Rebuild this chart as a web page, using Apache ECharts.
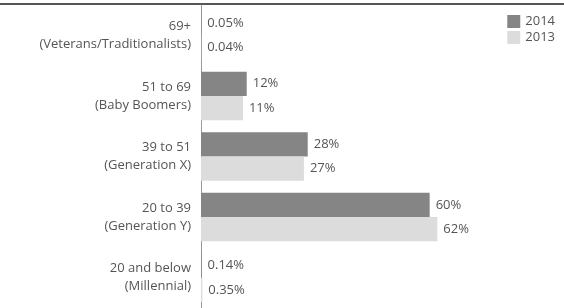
<!DOCTYPE html>
<meta charset="utf-8">
<style>
html, body { margin: 0; padding: 0; background: #fff; }
#main { width: 564px; height: 308px; }
</style>
<div id="main"></div>
<script src="https://cdn.jsdelivr.net/npm/echarts@6/dist/echarts.min.js"></script>
<script>
// age groups, top to bottom
var groups = [
    '69+\n(Veterans/Traditionalists)',
    '51 to 69\n(Baby Boomers)',
    '39 to 51\n(Generation X)',
    '20 to 39\n(Generation Y)',
    '20 and below\n(Millennial)'
];
var values2014 = [0.05, 12, 28, 60, 0.14];
var values2013 = [0.04, 11, 27, 62, 0.35];

var font = 'Open Sans';
var textColor = '#555';

var chart = echarts.init(document.getElementById('main'));

function barLabel() {
    return {
        show: true,
        position: 'right',
        distance: 6,
        color: textColor,
        fontFamily: font,
        fontSize: 13,
        formatter: function (p) { return p.value + '%'; }
    };
}

chart.setOption({
    animation: false,
    graphic: [{
        type: 'rect',
        shape: { x: 0, y: 3, width: 564, height: 2 },
        style: { fill: '#555' }
    }],
    legend: {
        orient: 'vertical',
        right: 4,
        top: 10,
        icon: 'rect',
        itemWidth: 13,
        itemHeight: 13,
        itemGap: 3,
        textStyle: { color: textColor, fontFamily: font, fontSize: 13 },
        data: ['2014', '2013']
    },
    grid: { left: 201, right: 20, top: 5, height: 310, containLabel: false },
    xAxis: {
        type: 'value',
        min: 0,
        max: 90,
        show: false
    },
    yAxis: {
        type: 'category',
        inverse: true,
        data: groups,
        axisLine: { show: true, lineStyle: { color: '#999', width: 1 } },
        axisTick: { show: false },
        axisLabel: {
            color: textColor,
            fontFamily: font,
            fontSize: 13,
            lineHeight: 18,
            margin: 10,
            align: 'right'
        }
    },
    series: [{
        name: '2014',
        type: 'bar',
        data: values2014,
        barGap: '0%',
        barCategoryGap: '20%',
        itemStyle: { color: '#858585' },
        label: barLabel()
    }, {
        name: '2013',
        type: 'bar',
        data: values2013,
        itemStyle: { color: '#dcdcdc' },
        label: barLabel()
    }]
});
</script>
